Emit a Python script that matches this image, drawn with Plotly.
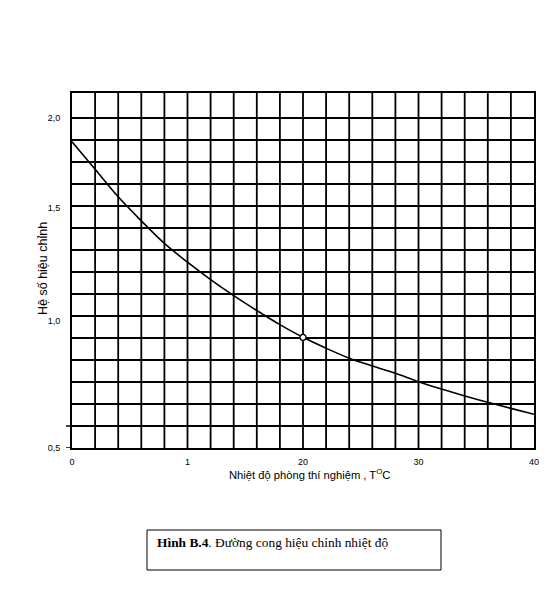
import numpy as np
import plotly.graph_objects as go

# ---- data ----
temperature = [0, 2, 4, 6, 8, 10, 12, 14, 16, 18, 20, 22, 24, 26, 28, 30, 32, 34, 36, 38, 40]
correction = [1.868, 1.716, 1.563, 1.444, 1.344, 1.261, 1.184, 1.113, 1.047, 0.986, 0.936,
              0.893, 0.854, 0.823, 0.794, 0.761, 0.732, 0.705, 0.680, 0.656, 0.633]
ref_temp = [20]
ref_corr = [0.936]

x_tickvals = [0, 10, 20, 30, 40]
x_ticktext = ["0", "1", "20", "30", "40"]
y_tick_values = [0.5, 1.0, 1.5, 2.0]
y_ticktext = ["0,5", "1,0", "1,5", "2,0"]
# non-uniform printed scale: value -> position in grid cells
scale_values = [0.5, 1.0, 1.5, 2.0]
scale_pos = [0.0, 5.77, 10.9, 15.0]


def to_axis(v):
    return np.interp(v, scale_values, scale_pos)


# ---- layout geometry (pixels) ----
W, H = 560, 609
L, R, T, B = 72, 534, 93, 448
YTOP = (B - T) / 22.0


def xp(px):
    return (px - L) / (R - L)


def yp(py):
    return (B - py) / (B - T)


fig = go.Figure()
fig.add_trace(go.Scatter(x=temperature, y=to_axis(correction), mode="lines",
                         line=dict(color="black", width=1.6, shape="spline", smoothing=1.0),
                         hoverinfo="skip", showlegend=False))
fig.add_trace(go.Scatter(x=ref_temp, y=to_axis(ref_corr), mode="markers",
                         marker=dict(size=6, color="white", line=dict(color="black", width=1.3)),
                         showlegend=False))

fig.update_layout(
    width=W, height=H,
    margin=dict(l=L, r=W - R, t=T, b=H - B, pad=0),
    paper_bgcolor="white", plot_bgcolor="white",
    font=dict(family="Liberation Sans, Arial, sans-serif", color="black"),
    xaxis=dict(range=[0, 40], tickvals=x_tickvals, ticktext=x_ticktext,
               tickfont=dict(size=9), showgrid=False, zeroline=False,
               showline=True, linecolor="black", linewidth=2, mirror=True,
               ticks="", ticklabelstandoff=4),
    yaxis=dict(range=[0, YTOP], tickvals=list(to_axis(y_tick_values)), ticktext=y_ticktext,
               tickfont=dict(size=9), showgrid=False, zeroline=False,
               showline=True, linecolor="black", linewidth=2, mirror=True,
               ticks="", ticklabelstandoff=8),
)

# grid: vertical every 2 units, horizontal every grid cell
for gx in range(2, 40, 2):
    fig.add_shape(type="line", xref="x", yref="paper", x0=gx, x1=gx, y0=0, y1=1,
                  line=dict(color="black", width=1.8), layer="below")
for gy in range(1, 16):
    fig.add_shape(type="line", xref="paper", yref="y", x0=0, x1=1, y0=gy, y1=gy,
                  line=dict(color="black", width=1.8), layer="below")
# slightly extended lines at the lower-left
for gy in [0, 1]:
    fig.add_shape(type="line", xref="paper", yref="y", x0=xp(66), x1=0, y0=gy, y1=gy,
                  line=dict(color="black", width=1.5))

# axis titles
fig.add_annotation(x=xp(309), y=yp(483), xref="paper", yref="paper", showarrow=False,
                   text="Nhiệt độ phòng thí nghiệm , T<sup>O</sup>C",
                   font=dict(size=11.2))
fig.add_annotation(x=xp(34), y=yp(269), xref="paper", yref="paper", showarrow=False,
                   text="Hệ số hiệu chỉnh", textangle=-90, font=dict(size=12.5))

# caption box
fig.add_shape(type="rect", xref="paper", yref="paper",
              x0=xp(147), x1=xp(441), y0=yp(530), y1=yp(570),
              line=dict(color="black", width=1))
fig.add_annotation(x=xp(155), y=yp(542), xref="paper", yref="paper", showarrow=False,
                   xanchor="left", yanchor="middle",
                   text="<b>Hình B.4</b>. Đường cong hiệu chỉnh nhiệt độ",
                   font=dict(size=13.4, family="Liberation Serif, Times New Roman, serif"))

fig.write_html("out.html", config={"displayModeBar": False},
               post_script="document.body.style.margin='0';document.body.style.padding='0';")
